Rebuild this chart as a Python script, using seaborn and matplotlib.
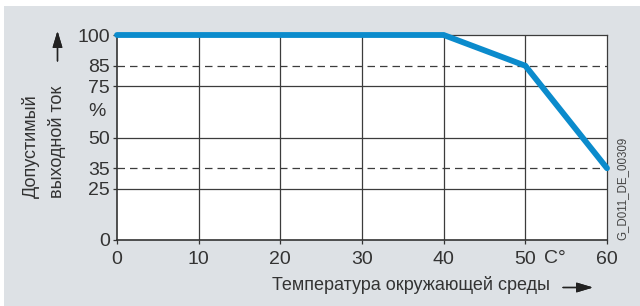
import seaborn as sns
import pandas as pd
import matplotlib.pyplot as plt
from matplotlib.patches import Rectangle

# derating curve
temps = [0, 40, 50, 60]
current = [100, 100, 85, 35]

x_ticks = [0, 10, 20, 30, 40, 50, 60]
y_ticks = [0, 25, 35, 50, 75, 85, 100]
solid_levels = [25, 50, 75]
dashed_levels = [35, 85]

df = pd.DataFrame({'temp': temps, 'current': current})

sns.set_style('white')
plt.rcParams['font.family'] = ['Liberation Sans', 'DejaVu Sans']

txt_col = '#333333'
grid_col = '#3c3c3c'

fig = plt.figure(figsize=(6.4, 3.06), dpi=100)
fig.patch.set_facecolor('white')
fig.patches.append(Rectangle((4 / 640, 0), 1, 1 - 6 / 306, transform=fig.transFigure,
                             facecolor='#dde1e5', edgecolor='none', zorder=-10))

ax = fig.add_axes([117 / 640, 1 - 240 / 306, 490 / 640, 205 / 306])
ax.set_facecolor('white')

for v in x_ticks[1:-1]:
    ax.axvline(v, color=grid_col, lw=0.9, zorder=1)
for v in solid_levels:
    ax.axhline(v, color=grid_col, lw=0.9, zorder=1)
for v in dashed_levels:
    ax.axhline(v, color=grid_col, lw=0.9, ls=(0, (6, 4)), zorder=1)

sns.lineplot(data=df, x='temp', y='current', color='#0b8bcc', linewidth=4.2,
             ax=ax, zorder=3, clip_on=False, solid_joinstyle='miter')

ax.set_xlim(0, 60)
ax.set_ylim(0, 100)
ax.set_xticks(x_ticks)
ax.set_yticks(y_ticks)
ax.tick_params(axis='both', labelsize=14, colors=txt_col, length=3, width=0.9,
               direction='out')
ax.tick_params(axis='x', pad=5)
ax.tick_params(axis='y', pad=2)
ax.tick_params(left=True, bottom=True)
for s in ['top', 'right']:
    ax.spines[s].set_color(grid_col)
    ax.spines[s].set_linewidth(0.9)
for s in ['left', 'bottom']:
    ax.spines[s].set_color(txt_col)
    ax.spines[s].set_linewidth(1.2)
ax.set_xlabel('')
ax.set_ylabel('')

ax.annotate('%', xy=(0, 62.5), xycoords=('axes fraction', 'data'), xytext=(-20, 0),
            textcoords='offset pixels', ha='center', va='center', fontsize=14, color=txt_col)
ax.annotate('C°', xy=(53.6, 0), xycoords=('data', 'axes fraction'), xytext=(0, -10),
            textcoords='offset pixels', ha='center', va='top', fontsize=14, color=txt_col)

arrow = dict(arrowstyle='-|>,head_length=0.5,head_width=0.15', color='#222222', lw=1,
             mutation_scale=20, shrinkA=0, shrinkB=0)

# y label with arrow
fig.text(31 / 640, 1 - 198 / 306, 'Допустимый', rotation=90, ha='center', va='bottom',
         fontsize=13, color=txt_col)
fig.text(57 / 640, 1 - 198 / 306, 'выходной ток', rotation=90, ha='center', va='bottom',
         fontsize=13, color=txt_col)
fig.add_artist(plt.annotate('', xy=(57.5 / 640, 1 - 31 / 306), xycoords='figure fraction',
                            xytext=(57.5 / 640, 1 - 61 / 306), textcoords='figure fraction',
                            arrowprops=arrow))

# x label with arrow
fig.text(550 / 640, 1 - 290 / 306, 'Температура окружающей среды', ha='right',
         va='baseline', fontsize=13, color=txt_col)
fig.add_artist(plt.annotate('', xy=(593 / 640, 1 - 287.5 / 306), xycoords='figure fraction',
                            xytext=(563 / 640, 1 - 287.5 / 306), textcoords='figure fraction',
                            arrowprops=arrow))

fig.text(622 / 640, 1 - 240 / 306, 'G_D011_DE_00309', rotation=90, ha='center', va='bottom',
         fontsize=8.3, color='#444444')

plt.savefig('out.png', dpi=100, facecolor=fig.get_facecolor())
